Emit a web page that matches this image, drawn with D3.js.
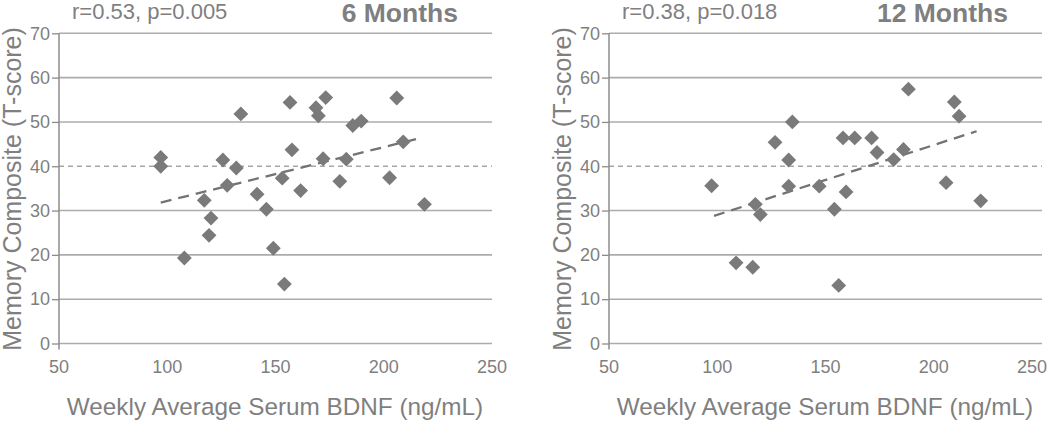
<!DOCTYPE html>
<html>
<head>
<meta charset="utf-8">
<script src="https://cdn.jsdelivr.net/npm/d3@7"></script>
<style>
  body { margin: 0; background: #fff; }
  svg text { font-family: "Liberation Sans", Arial, sans-serif; fill: #7f7f7f; }
</style>
</head>
<body>
<div id="chart"></div>
<script>
// 6 month panel
var bdnf6 = [97, 97, 134, 125.7, 131.9, 127.7, 141.5, 156.7, 157.6, 153.1, 161.6, 168.7, 169.8, 173.2, 172,
             179.7, 182.7, 185.7, 189.6, 206, 202.7, 209, 218.8, 117.1, 120.2, 119.3, 107.9, 145.8, 149, 154.1];
var memory6 = [42, 40, 51.8, 41.4, 39.6, 35.7, 33.7, 54.4, 43.7, 37.3, 34.5, 53.2, 51.4, 55.5, 41.7,
               36.6, 41.6, 49.2, 50.2, 55.4, 37.4, 45.5, 31.4, 32.3, 28.3, 24.4, 19.3, 30.3, 21.5, 13.4];
var trendX6 = [97, 218];
var trendY6 = [31.8, 46.5];

// 12 month panel
var bdnf12 = [97.4, 126.7, 134.7, 133, 133, 147.1, 158.1, 163.5, 171.3, 173.8, 159.5, 181.5, 186, 188.3,
              209.5, 211.7, 205.7, 221.7, 117.6, 119.9, 108.7, 116.4, 154.1, 156.1];
var memory12 = [35.6, 45.4, 50, 41.4, 35.5, 35.5, 46.4, 46.4, 46.4, 43.1, 34.2, 41.5, 43.8, 57.4,
                54.5, 51.3, 36.3, 32.2, 31.4, 29.1, 18.2, 17.2, 30.3, 13.1];
var trendX12 = [98.5, 219.8];
var trendY12 = [28.8, 47.9];

var xTicks = [50, 100, 150, 200, 250];
var yTicks = [0, 10, 20, 30, 40, 50, 60, 70];
var titles = ["6 Months", "12 Months"];
var stats = ["r=0.53, p=0.005", "r=0.38, p=0.018"];
var xLabel = "Weekly Average Serum BDNF (ng/mL)";
var yLabel = "Memory Composite (T-score)";

var width = 1050, height = 421;
var svg = d3.select("#chart").append("svg")
    .attr("width", width)
    .attr("height", height);

var panels = [
    { left: 59, xs: bdnf6, ys: memory6, tx: trendX6, ty: trendY6 },
    { left: 609, xs: bdnf12, ys: memory12, tx: trendX12, ty: trendY12 }
];

var plotW = 433, plotTop = 33.3, plotBottom = 343.5;

panels.forEach(function (p, i) {
    var g = svg.append("g");

    var x = d3.scaleLinear().domain([50, 250]).range([p.left, p.left + plotW]);
    var y = d3.scaleLinear().domain([0, 70]).range([plotBottom, plotTop]);

    // horizontal gridlines (40 is dashed)
    g.selectAll(".grid")
        .data(yTicks)
        .enter()
        .append("line")
        .attr("x1", p.left)
        .attr("x2", p.left + plotW)
        .attr("y1", function (d) { return y(d); })
        .attr("y2", function (d) { return y(d); })
        .attr("stroke", function (d) { return d === 40 ? "#a6a6a6" : "#acacac"; })
        .attr("stroke-width", function (d) { return d === 40 ? 1.3 : 1.6; })
        .attr("stroke-dasharray", function (d) { return d === 40 ? "5,4" : null; });

    // y axis
    var yAxis = g.append("g")
        .attr("transform", "translate(" + p.left + ",0)")
        .call(d3.axisLeft(y).tickValues(yTicks).tickSize(7).tickPadding(2));
    yAxis.select(".domain").remove();
    yAxis.selectAll("line").attr("stroke", "#8c8c8c").attr("stroke-width", 1.3);
    yAxis.selectAll("text")
        .style("font-size", "18px")
        .attr("fill", "#7f7f7f");

    g.append("line")
        .attr("x1", p.left).attr("x2", p.left)
        .attr("y1", plotTop).attr("y2", plotBottom + 6)
        .attr("stroke", "#8c8c8c")
        .attr("stroke-width", 1.5);

    // x tick labels (last one kept inside the page)
    g.selectAll(".xt")
        .data(xTicks)
        .enter()
        .append("text")
        .attr("x", function (d) { return Math.min(x(d), width - 18); })
        .attr("y", 373)
        .attr("text-anchor", "middle")
        .style("font-size", "18px")
        .text(function (d) { return d; });

    // trend line
    g.append("line")
        .attr("x1", x(p.tx[0])).attr("y1", y(p.ty[0]))
        .attr("x2", x(p.tx[1])).attr("y2", y(p.ty[1]))
        .attr("stroke", "#737373")
        .attr("stroke-width", 2.3)
        .attr("stroke-dasharray", "11,7");

    // diamonds
    g.selectAll(".pt")
        .data(p.xs)
        .enter()
        .append("path")
        .attr("d", d3.symbol().type(d3.symbolSquare).size(110))
        .attr("transform", function (d, j) {
            return "translate(" + x(d) + "," + y(p.ys[j]) + ") rotate(45)";
        })
        .attr("fill", "#7a7a7a");

    // labels
    g.append("text")
        .attr("x", p.left + 216)
        .attr("y", 415)
        .attr("text-anchor", "middle")
        .style("font-size", "24.3px")
        .text(xLabel);

    g.append("text")
        .attr("transform", "translate(" + (p.left - 38) + "," + 189 + ") rotate(-90)")
        .attr("text-anchor", "middle")
        .style("font-size", "25px")
        .text(yLabel);

    g.append("text")
        .attr("x", p.left + 13)
        .attr("y", 19)
        .style("font-size", "22px")
        .text(stats[i]);

    g.append("text")
        .attr("x", p.left + 399)
        .attr("y", 22)
        .attr("text-anchor", "end")
        .style("font-size", "26.5px")
        .style("font-weight", "bold")
        .text(titles[i]);
});
</script>
</body>
</html>
